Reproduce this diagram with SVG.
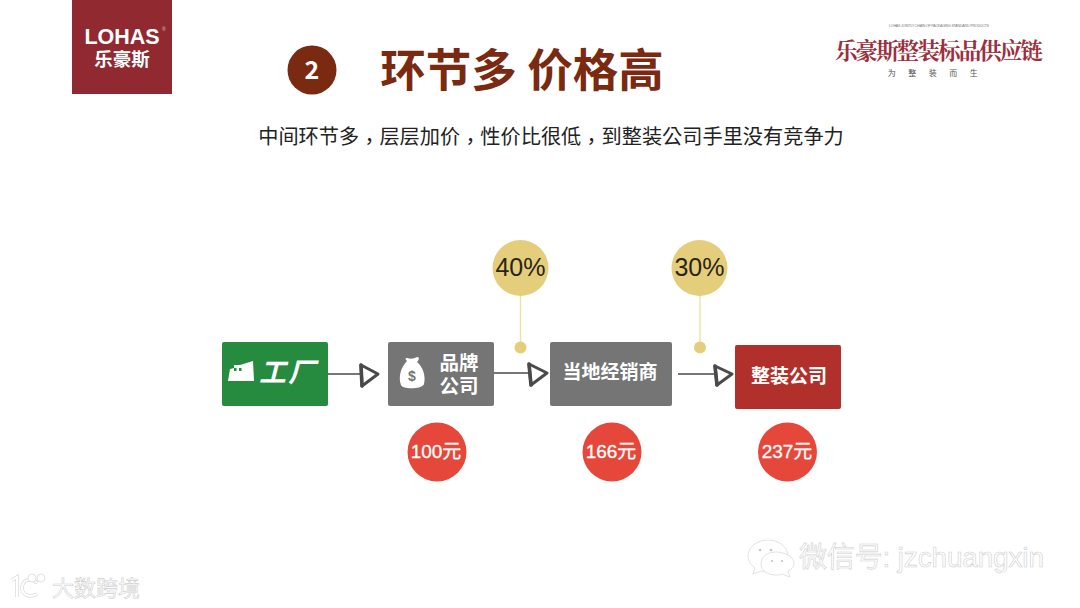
<svg xmlns="http://www.w3.org/2000/svg" width="1080" height="608" viewBox="0 0 1080 608">
<defs>
<style>
.cjk{font-family:"Noto Sans CJK SC","Liberation Sans",sans-serif}
.lat{font-family:"Liberation Sans","Noto Sans CJK SC",sans-serif}
.w{fill:#fff;font-weight:700;text-anchor:middle}
.box{stroke:none}
.line{stroke:#4a4a4a;stroke-width:1.6;fill:none}
.head{fill:#fff;stroke:#4a4a4a;stroke-width:3;stroke-linejoin:round}
.bar{fill:none;stroke:#4a4a4a;stroke-width:3.6;stroke-linecap:round}
.pin{stroke:#efe0a6;stroke-width:1.4}
.gold{fill:#e5ce7b}
.pct{font-size:25px;fill:#2a2415;text-anchor:middle}
.red{fill:#e5483a}
.price{font-size:19px;fill:#fff;stroke:#fff;stroke-width:.3;text-anchor:middle;font-family:"Liberation Sans","Noto Sans CJK SC",sans-serif}
.wm{fill:#fff;stroke:#cfcfcf;stroke-width:.6}
</style>
</defs>
<rect width="1080" height="608" fill="#fff"/>
<g id="logo">
<rect x="72" y="0" width="100" height="94" fill="#912a30"/>
<text class="w" font-family="'Liberation Sans','Noto Sans CJK SC',sans-serif"><tspan x="122" y="44" font-size="21.500">LOHAS</tspan><tspan x="122" y="66" font-size="18.500" font-family="'Noto Sans CJK SC',sans-serif">乐豪斯</tspan></text>
<text x="162" y="31" class="lat" font-size="5" fill="#e6c5c5">®</text>
</g>
<g id="brand">
<text x="939" y="27" class="lat" font-size="3.6" fill="#777" text-anchor="middle" textLength="100">LOHAS JOINTLY CHAIN OF PACKAGING STANDARD PRODUCTS</text>
<text x="939" y="59" font-family="'Noto Serif CJK SC','Noto Sans CJK SC',serif" font-size="22.5" font-weight="700" fill="#9c2f3d" text-anchor="middle" textLength="208">乐豪斯整装标品供应链</text>
<text x="939" y="76" class="cjk" font-size="8" fill="#555" text-anchor="middle" letter-spacing="12.5">为整装而生</text>
</g>
<g id="title">
<circle cx="312" cy="70" r="24.500" fill="#7a2a10"/>
<text x="312" y="79" class="cjk" font-size="25" font-weight="700" fill="#fff" text-anchor="middle">2</text>
<text x="522" y="87" class="cjk" font-size="45.500" font-weight="700" fill="#7a2a10" text-anchor="middle">环节多 价格高</text>
</g>
<text id="subtitle" x="551" y="144" font-family="'Noto Sans CJK TC','Liberation Sans',sans-serif" font-size="20.200" fill="#222" text-anchor="middle">中间环节多<tspan dy="5">，</tspan><tspan dy="-5">层层加价</tspan><tspan dy="5">，</tspan><tspan dy="-5">性价比很低</tspan><tspan dy="5">，</tspan><tspan dy="-5">到整装公司手里没有竞争力</tspan></text>
<g id="connectors">
<path class="line" d="M327 374H362M494 373H530M678 374H716"/>
<path class="head" d="M361 365L378 374L362 386Z"/>
<path class="bar" d="M361 365L362 386"/>
<path class="head" d="M529 364L547 373L531 385Z"/>
<path class="bar" d="M529 364L531 385"/>
<path class="head" d="M715 366L732 374L717 385Z"/>
<path class="bar" d="M715 366L717 385"/>
<path class="pin" d="M520.500 296V347M700 296V347"/>
<circle class="gold" cx="520.500" cy="347.500" r="6"/>
<circle class="gold" cx="700" cy="347.500" r="6"/>
</g>
<g id="factory">
<rect class="box" x="222" y="342" width="106" height="64" rx="2" fill="#268a3f"/>
<path fill="#fff" d="M228 381L230 369L234 368V365L240 365L253 361L254 381Z"/>
<rect x="234" y="368" width="2.500" height="3" fill="#268a3f"/><rect x="239" y="368" width="2.500" height="3" fill="#268a3f"/>
<text x="288" y="382" class="cjk w" font-size="27" font-style="italic" letter-spacing="2">工厂</text>
</g>
<g id="brand-company">
<rect class="box" x="388" y="342" width="106" height="64" rx="2" fill="#757575"/>
<path fill="#fff" d="M407 361C405 359 405 358 407 358C411 359 413 359 417 357C420 357 419 360 417 362C423 367 426 376 424 384C423 389 403 390 401 385C398 377 401 367 407 361Z"/>
<text x="412" y="381" class="lat" font-size="14" font-weight="700" fill="#757575" text-anchor="middle">$</text>
<text class="cjk w" font-size="19.500"><tspan x="459" y="370">品牌</tspan><tspan x="459" y="393">公司</tspan></text>
</g>
<g id="dealer">
<rect class="box" x="550" y="342" width="122" height="64" rx="2" fill="#757575"/>
<text x="610" y="379" class="cjk w" font-size="19">当地经销商</text>
</g>
<g id="fitout">
<rect class="box" x="735" y="345" width="106" height="64" rx="2" fill="#b2302b"/>
<text x="789" y="383" class="cjk w" font-size="19">整装公司</text>
</g>
<g id="pct40"><circle class="gold" cx="520.500" cy="268" r="28"/><text x="520.500" y="276" class="lat pct">40%</text></g>
<g id="pct30"><circle class="gold" cx="699.500" cy="268" r="28"/><text x="699.500" y="276" class="lat pct">30%</text></g>
<g id="price100"><circle class="red" cx="437" cy="452" r="29.500"/><text x="436" y="458" class="price">100元</text></g>
<g id="price166"><circle class="red" cx="612" cy="452" r="29.500"/><text x="611" y="458" class="price">166元</text></g>
<g id="price237"><circle class="red" cx="787.500" cy="452" r="29.500"/><text x="787" y="458" class="price">237元</text></g>
<g id="watermark-wechat">
<path class="wm" d="M768 540C757 540 748 547 748 556C748 561 751 565 755 568L753 574L761 571C764 572 767 572 770 572C778 572 787 566 788 556C788 547 779 540 768 540Z"/>
<path class="wm" d="M776 552C767 552 761 557 761 564C761 571 768 575 776 575C778 575 780 575 782 574L790 577L788 571C792 569 794 567 794 563C794 557 785 552 776 552Z"/>
<circle cx="760" cy="550" r="1.300" fill="#c5c5c5"/><circle cx="771" cy="550" r="1.300" fill="#c5c5c5"/><circle cx="772" cy="561" r="1.100" fill="#c5c5c5"/><circle cx="782" cy="561" r="1.100" fill="#c5c5c5"/>
<text x="799" y="567" class="lat wm" font-size="28" textLength="245"><tspan class="cjk">微信号</tspan>: jzchuangxin</text>
</g>
<g id="watermark-site">
<path d="M12 580L17 577V597M37 583C30 576 22 581 22 588C22 595 30 598 37 594" fill="none" stroke="#cfcfcf" stroke-width="3.400"/>
<path d="M12 580L17 577V597M37 583C30 576 22 581 22 588C22 595 30 598 37 594" fill="none" stroke="#fff" stroke-width="2.400"/>
<circle class="wm" cx="32" cy="578" r="4"/><circle class="wm" cx="41" cy="578" r="4"/>
<text x="52" y="596" class="cjk wm" font-size="22" stroke-width=".8">大数跨境</text>
</g>
</svg>
